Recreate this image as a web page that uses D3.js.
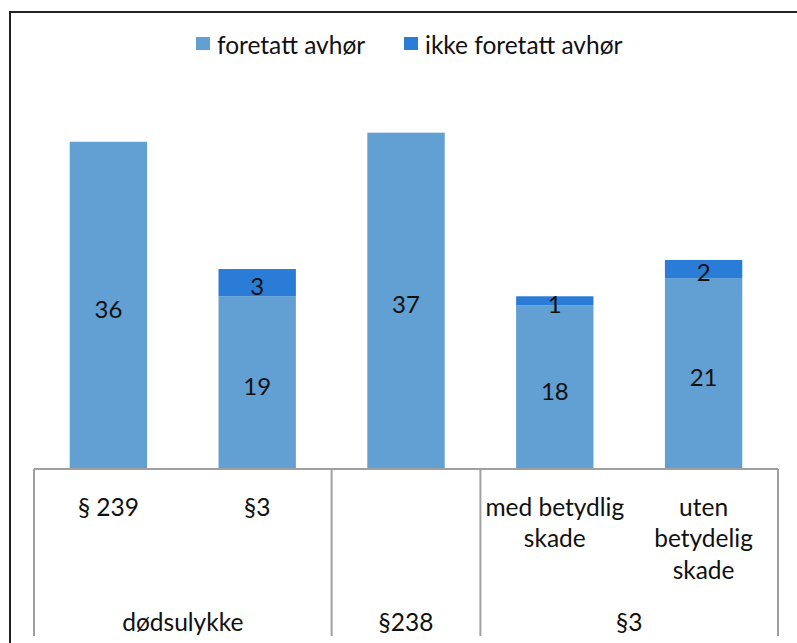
<!DOCTYPE html>
<html>
<head>
<meta charset="utf-8">
<script src="https://cdn.jsdelivr.net/npm/d3@7"></script>
<style>
  body { margin: 0; background: #fff; }
  svg text { font-family: Lato, "Open Sans", sans-serif; fill: #111; }
</style>
</head>
<body>
<svg width="797" height="643"></svg>
<script>
// data
var catLabels = [['§ 239'], ['§3'], [''], ['med betydlig', 'skade'], ['uten', 'betydelig', 'skade']];
var groupNames = ['dødsulykke', '§238', '§3'];
var groupSizes = [2, 1, 2];
var foretatt = [36, 19, 37, 18, 21];
var ikkeForetatt = [0, 3, 0, 1, 2];
var seriesNames = ['foretatt avhør', 'ikke foretatt avhør'];
var colors = ['#629fd2', '#2b7cd6'];

var svg = d3.select('svg'),
    left = 34, right = 778,
    base = 469, bottom = 636,
    fs = '24.5px';

// frame around the whole chart (runs off right and bottom)
svg.append('rect')
    .attr('x', 10).attr('y', 12)
    .attr('width', 820).attr('height', 660)
    .attr('fill', 'none').attr('stroke', '#222').attr('stroke-width', 2);

var x = d3.scaleBand().domain(d3.range(catLabels.length)).range([left, right]).paddingInner(0).paddingOuter(0),
    y = d3.scaleLinear().domain([0, 40]).range([base, 105.4]);

var barW = x.bandwidth() * 0.52;

var table = foretatt.map(function(v, i) {
  return { i: i, a: v, b: ikkeForetatt[i] };
});
var stack = d3.stack().keys(['a', 'b'])(table);

var g = svg.append('g');
stack.forEach(function(layer, k) {
  g.selectAll('.bar' + k)
    .data(layer)
    .enter().append('rect')
      .attr('class', 'bar' + k)
      .attr('fill', colors[k])
      .attr('x', function(d) { return x(d.data.i) + (x.bandwidth() - barW) / 2; })
      .attr('width', barW)
      .attr('y', function(d) { return y(d[1]); })
      .attr('height', function(d) { return y(d[0]) - y(d[1]); });

  g.selectAll('.lab' + k)
    .data(layer.filter(function(d) { return d[1] - d[0] > 0; }))
    .enter().append('text')
      .attr('x', function(d) { return x(d.data.i) + x.bandwidth() / 2; })
      .attr('y', function(d) { return (y(d[0]) + y(d[1])) / 2 + 4; })
      .attr('dy', '0.35em')
      .attr('text-anchor', 'middle')
      .style('font-size', '24px')
      .text(function(d) { return d[1] - d[0]; });
});

// axis: base line and group separators
var axis = svg.append('g').attr('stroke', '#a0a0a0').attr('stroke-width', 2);
axis.append('line').attr('x1', left).attr('x2', right).attr('y1', base).attr('y2', base);
var edges = [0], acc = 0;
groupSizes.forEach(function(s) { acc += s; edges.push(acc); });
edges.forEach(function(e) {
  var xe = e < catLabels.length ? x(e) : right;
  axis.append('line').attr('x1', xe).attr('x2', xe).attr('y1', base).attr('y2', bottom);
});

// category labels
catLabels.forEach(function(lines, i) {
  lines.forEach(function(t, j) {
    svg.append('text')
      .attr('x', x(i) + x.bandwidth() / 2)
      .attr('y', 507 + j * 31.5)
      .attr('dy', '0.35em')
      .attr('text-anchor', 'middle')
      .style('font-size', fs)
      .text(t);
  });
});

// group labels
groupNames.forEach(function(n, k) {
  var x0 = x(edges[k]),
      x1 = edges[k + 1] < catLabels.length ? x(edges[k + 1]) : right;
  svg.append('text')
    .attr('x', (x0 + x1) / 2)
    .attr('y', 622)
    .attr('dy', '0.35em')
    .attr('text-anchor', 'middle')
    .style('font-size', fs)
    .text(n);
});

// legend
var legX = [196, 404];
seriesNames.forEach(function(n, k) {
  svg.append('rect')
    .attr('x', legX[k]).attr('y', 37)
    .attr('width', 14).attr('height', 13)
    .attr('fill', colors[k]);
  svg.append('text')
    .attr('x', legX[k] + 21)
    .attr('y', 45)
    .attr('dy', '0.35em')
    .style('font-size', fs)
    .text(n);
});
</script>
</body>
</html>
